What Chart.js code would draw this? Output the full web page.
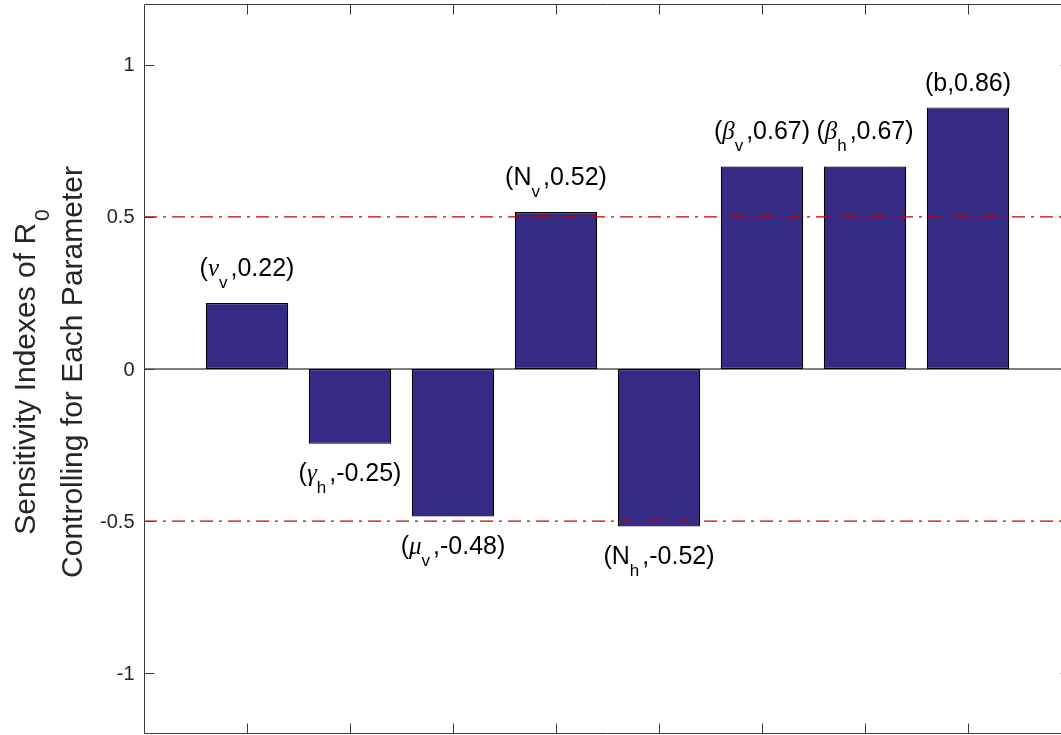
<!DOCTYPE html>
<html>
<head>
<meta charset="utf-8">
<script src="https://cdn.jsdelivr.net/npm/chart.js@4.4.1/dist/chart.umd.min.js"></script>
<style>
html,body{margin:0;padding:0;overflow:hidden;background:#fff;width:1061px;height:735px}
#wrap{position:absolute;left:0;top:0;width:1090px;height:735px}
</style>
</head>
<body>
<div id="wrap"><canvas id="c" width="1090" height="735"></canvas></div>
<script>
// ---- data ----
const xPositions = [1, 2, 3, 4, 5, 6, 7, 8];
const paramSymbols = ['ν', 'γ', 'μ', 'N', 'N', 'β', 'β', 'b'];
const paramGreek = [true, true, true, false, false, true, true, false];
const paramSubscripts = ['v', 'h', 'v', 'v', 'h', 'v', 'h', ''];
const sensitivity = [0.217, -0.246, -0.485, 0.516, -0.518, 0.666, 0.666, 0.860];
const valueLabels = ['0.22', '-0.25', '-0.48', '0.52', '-0.52', '0.67', '0.67', '0.86'];
const thresholdLevels = [0.5, -0.5];
const xRange = [0, 9];
const yRange = [-1.2, 1.2];
const xTickValues = [1, 2, 3, 4, 5, 6, 7, 8];
const yTickValues = [-1, -0.5, 0, 0.5, 1];
const yTickLabels = ['-1', '-0.5', '0', '0.5', '1'];
const yTitleLine1 = { main: 'Sensitivity Indexes of R', sub: '0' };
const yTitleLine2 = 'Controlling for Each Parameter';

// ---- styles ----
const SANS = '"Liberation Sans", Arial, Helvetica, sans-serif';
const SERIF = '"Liberation Serif", "DejaVu Serif", serif';
const AXIS_COLOR = '#3a3a3a';
const TEXT_COLOR = '#262626';

const matlabAxes = {
  id: 'matlabAxes',
  afterDraw(chart) {
    const ctx = chart.ctx;
    const xs = chart.scales.x, ys = chart.scales.y;
    const a = chart.chartArea;
    const L = Math.round(a.left) + 0.5, R = Math.round(a.right) - 0.5;
    const T = Math.round(a.top) + 0.5, B = Math.round(a.bottom) - 0.5;
    ctx.save();
    ctx.strokeStyle = AXIS_COLOR;
    ctx.lineWidth = 1;
    ctx.beginPath();
    ctx.moveTo(L, T); ctx.lineTo(R, T); ctx.lineTo(R, B); ctx.lineTo(L, B); ctx.closePath();
    const tl = 10;
    xTickValues.forEach(v => {
      const px = Math.round(xs.getPixelForValue(v)) + 0.5;
      ctx.moveTo(px, B); ctx.lineTo(px, B - tl);
      ctx.moveTo(px, T); ctx.lineTo(px, T + tl);
    });
    yTickValues.forEach(v => {
      const py = Math.round(ys.getPixelForValue(v)) + 0.5;
      ctx.moveTo(L, py); ctx.lineTo(L + tl, py);
      ctx.moveTo(R, py); ctx.lineTo(R - tl, py);
    });
    ctx.stroke();

    // y tick labels
    ctx.fillStyle = TEXT_COLOR;
    ctx.font = '20px ' + SANS;
    ctx.textAlign = 'right';
    ctx.textBaseline = 'middle';
    yTickValues.forEach((v, k) => {
      ctx.fillText(yTickLabels[k], a.left - 9.5, ys.getPixelForValue(v) + 1);
    });

    // bar labels
    const mainFont = '25px ' + SANS;
    const greekFont = 'italic 25px ' + SERIF;
    const subFont = '17px ' + SANS;
    ctx.fillStyle = '#000';
    ctx.textBaseline = 'alphabetic';
    ctx.textAlign = 'left';
    sensitivity.forEach((val, i) => {
      const parts = [];
      parts.push({ t: '(', f: mainFont, dy: 0 });
      parts.push({ t: paramSymbols[i], f: paramGreek[i] ? greekFont : mainFont, dy: 0 });
      if (paramSubscripts[i]) parts.push({ t: paramSubscripts[i], f: subFont, dy: 12, pad: 1 });
      parts.push({ t: ',' + valueLabels[i] + ')', f: mainFont, dy: 0, padL: paramSubscripts[i] ? 2 : 0 });
      let total = 0;
      parts.forEach(p => { ctx.font = p.f; p.w = ctx.measureText(p.t).width; total += p.w + (p.padL || 0) + (p.pad || 0); });
      const cx = xs.getPixelForValue(xPositions[i]);
      const endPx = ys.getPixelForValue(val);
      let baseline;
      if (val >= 0) baseline = endPx - (paramSubscripts[i] ? 27 : 16);
      else baseline = endPx + 37.5;
      let x = cx - total / 2;
      parts.forEach(p => {
        x += (p.padL || 0);
        ctx.font = p.f;
        ctx.fillText(p.t, x, baseline + p.dy);
        x += p.w + (p.pad || 0);
      });
    });

    // y axis title (rotated, two lines)
    ctx.fillStyle = TEXT_COLOR;
    ctx.translate(0, (a.top + a.bottom) / 2 + 3);
    ctx.rotate(-Math.PI / 2);
    const tf = '30px ' + SANS, tsf = '21px ' + SANS;
    ctx.font = tf;
    const w1 = ctx.measureText(yTitleLine1.main).width;
    ctx.font = tsf;
    const w1s = ctx.measureText(yTitleLine1.sub).width;
    const tot1 = w1 + w1s + 2;
    ctx.font = tf;
    ctx.fillText(yTitleLine1.main, -tot1 / 2, 35);
    ctx.font = tsf;
    ctx.fillText(yTitleLine1.sub, -tot1 / 2 + w1 + 2, 49);
    ctx.font = tf;
    const w2 = ctx.measureText(yTitleLine2).width;
    ctx.fillText(yTitleLine2, -w2 / 2, 82);
    ctx.restore();
  }
};

const barData = xPositions.map((x, i) => ({ x: x, y: sensitivity[i] }));
const lineDatasets = thresholdLevels.map(level => ({
  type: 'line',
  data: [{ x: xRange[0], y: level }, { x: xRange[1], y: level }],
  borderColor: '#c00000',
  borderWidth: 1.2,
  borderDash: [13, 6, 3, 6],
  pointRadius: 0,
  fill: false,
  order: 0
}));
const baselineDataset = {
  type: 'line',
  data: [{ x: xRange[0], y: 0 }, { x: xRange[1], y: 0 }],
  borderColor: '#000',
  borderWidth: 1,
  pointRadius: 0,
  fill: false,
  order: 0
};

new Chart(document.getElementById('c'), {
  type: 'bar',
  data: {
    datasets: [
      {
        type: 'bar',
        data: barData,
        backgroundColor: '#352a84',
        borderColor: '#000000',
        borderWidth: 1.2,
        borderSkipped: false,
        barPercentage: 0.8,
        categoryPercentage: 1.0,
        order: 1
      },
      baselineDataset,
      ...lineDatasets
    ]
  },
  options: {
    responsive: false,
    devicePixelRatio: 1,
    animation: false,
    layout: { padding: { left: 144, top: 4, bottom: 1, right: 19 } },
    plugins: { legend: { display: false }, tooltip: { enabled: false } },
    scales: {
      x: {
        type: 'linear',
        min: xRange[0],
        max: xRange[1],
        offset: false,
        display: false
      },
      y: {
        type: 'linear',
        min: yRange[0],
        max: yRange[1],
        display: false
      }
    }
  },
  plugins: [matlabAxes]
});
</script>
</body>
</html>
